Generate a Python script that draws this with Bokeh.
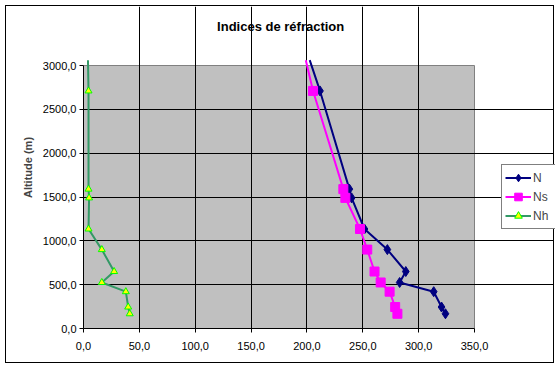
from bokeh.plotting import figure
from bokeh.models import (Range1d, FixedTicker, Legend, LegendItem, Label,
                          ColumnDataSource, CDSView, IndexFilter)
from bokeh.embed import file_html
from bokeh.resources import INLINE

# ---- data ----
# first row: where the lines leave the top of the plot (no marker drawn there)
altitude = [3061, 2710, 1590, 1490, 1135, 900, 650, 525, 420, 245, 168]
n_vals   = [202.5, 211.7, 238.0, 240.0, 251.5, 272.0, 288.5, 283.0, 313.5, 320.5, 324.0]
ns_vals  = [199.0, 205.5, 232.6, 234.4, 247.5, 254.0, 260.5, 266.0, 274.0, 279.0, 281.0]
nh_vals  = [4.0, 4.5, 4.5, 5.0, 4.5, 16.4, 27.4, 16.4, 37.9, 40.0, 41.4]

x_ticks = [0, 50, 100, 150, 200, 250, 300, 350]
x_tick_labels = ["0,0", "50,0", "100,0", "150,0", "200,0", "250,0", "300,0", "350,0"]
y_ticks = [0, 500, 1000, 1500, 2000, 2500, 3000]
y_tick_labels = ["0,0", "500,0", "1000,0", "1500,0", "2000,0", "2500,0", "3000,0"]

series_names = ["N", "Ns", "Nh"]
title_text = "Indices de réfraction"
y_label = "Altitude (m)"

FONT = "Liberation Sans"

# ---- geometry ----
W, H = 549, 358
LEFT, BOTTOM = 77, 36
PLOT_W, PLOT_H = 391, 263          # pixel size of the grey plot area
x_min, x_max = x_ticks[0], x_ticks[-1]
y_min, y_max = y_ticks[0], y_ticks[-1]
x_hi = x_min + (W - LEFT) * (x_max - x_min) / PLOT_W
y_hi = y_min + (H - BOTTOM) * (y_max - y_min) / PLOT_H
py = (y_max - y_min) / PLOT_H        # data units per pixel (y)

src = ColumnDataSource(dict(alt=altitude, n=n_vals, ns=ns_vals, nh=nh_vals))
marker_view = CDSView(filter=IndexFilter(list(range(1, len(altitude)))))

p = figure(width=W, height=H,
           x_range=Range1d(x_min, x_hi), y_range=Range1d(y_min, y_hi),
           output_backend="svg", toolbar_location=None,
           min_border_left=LEFT, min_border_right=0,
           min_border_top=0, min_border_bottom=BOTTOM,
           background_fill_color="white", border_fill_color="white",
           outline_line_color=None,
           styles={"border": "1px solid black", "margin-left": "5px",
                   "margin-top": "5px"})

# grey plot area
area = p.quad(left=[x_min], right=[x_max], bottom=[y_min], top=[y_max],
              fill_color="#C0C0C0", line_color="#808080", line_width=1)
area.level = "image"

# axes
for ax in (p.xaxis[0], p.yaxis[0]):
    ax.axis_line_color = "black"
    ax.major_tick_line_color = "black"
    ax.major_tick_out = 4
    ax.major_tick_in = 0
    ax.minor_tick_line_color = None
    ax.major_label_text_font = FONT
    ax.major_label_text_font_size = "11px"
    ax.major_label_text_color = "black"

p.xaxis.ticker = FixedTicker(ticks=x_ticks)
p.xaxis.bounds = (x_min, x_max)
p.xaxis.major_label_overrides = {t: l for t, l in zip(x_ticks, x_tick_labels)}
p.xaxis.major_label_standoff = 9
p.yaxis.ticker = FixedTicker(ticks=y_ticks)
p.yaxis.bounds = (y_min, y_max)
p.yaxis.major_label_overrides = {t: l for t, l in zip(y_ticks, y_tick_labels)}
p.yaxis.major_label_standoff = 3
p.yaxis.axis_label = y_label
p.yaxis.axis_label_text_font = FONT
p.yaxis.axis_label_text_font_size = "11px"
p.yaxis.axis_label_text_font_style = "bold"
p.yaxis.axis_label_standoff = 6

# grids (inside the grey area only)
p.xgrid.ticker = FixedTicker(ticks=x_ticks[1:-1])
p.ygrid.ticker = FixedTicker(ticks=y_ticks[1:-1])
p.xgrid.bounds = (y_min, y_max)
p.ygrid.bounds = (x_min, x_max)
p.xgrid.grid_line_color = "black"
p.ygrid.grid_line_color = "black"

# series
ln_n = p.line("n", "alt", source=src, line_color="#000080", line_width=2)
mk_n = p.scatter("n", "alt", source=src, view=marker_view, marker="diamond",
                 size=10, fill_color="#000080", line_color="#000080")
ln_ns = p.line("ns", "alt", source=src, line_color="#FF00FF", line_width=2)
mk_ns = p.scatter("ns", "alt", source=src, view=marker_view, marker="square",
                  size=9, fill_color="#FF00FF", line_color="#FF00FF")
ln_nh = p.line("nh", "alt", source=src, line_color="#339966", line_width=2)
mk_nh = p.scatter("nh", "alt", source=src, view=marker_view, marker="triangle",
                  size=7, fill_color="#FFFF00", line_color="#00FF00", line_width=1)

legend = Legend(items=[
    LegendItem(label=series_names[0], renderers=[ln_n, mk_n]),
    LegendItem(label=series_names[1], renderers=[ln_ns, mk_ns]),
    LegendItem(label=series_names[2], renderers=[ln_nh, mk_nh]),
], location=(418, 99))
legend.border_line_color = "black"
legend.border_line_width = 1
legend.background_fill_color = "white"
legend.background_fill_alpha = 1
legend.label_text_font = FONT
legend.label_text_font_size = "12px"
legend.padding = 3
legend.spacing = 0
legend.margin = 0
legend.glyph_width = 26
legend.glyph_height = 19
legend.label_height = 19
legend.label_standoff = 2
p.add_layout(legend)

# title (centred over the grey area, ~39 px above it)
p.add_layout(Label(x=(x_min + x_max) / 2 + 1.5, y=y_max + 39 * py,
                   text=title_text, text_align="center",
                   text_baseline="middle", text_font=FONT,
                   text_font_size="13px", text_font_style="bold",
                   text_color="black"))

open("out.html", "w").write(file_html(p, INLINE))
